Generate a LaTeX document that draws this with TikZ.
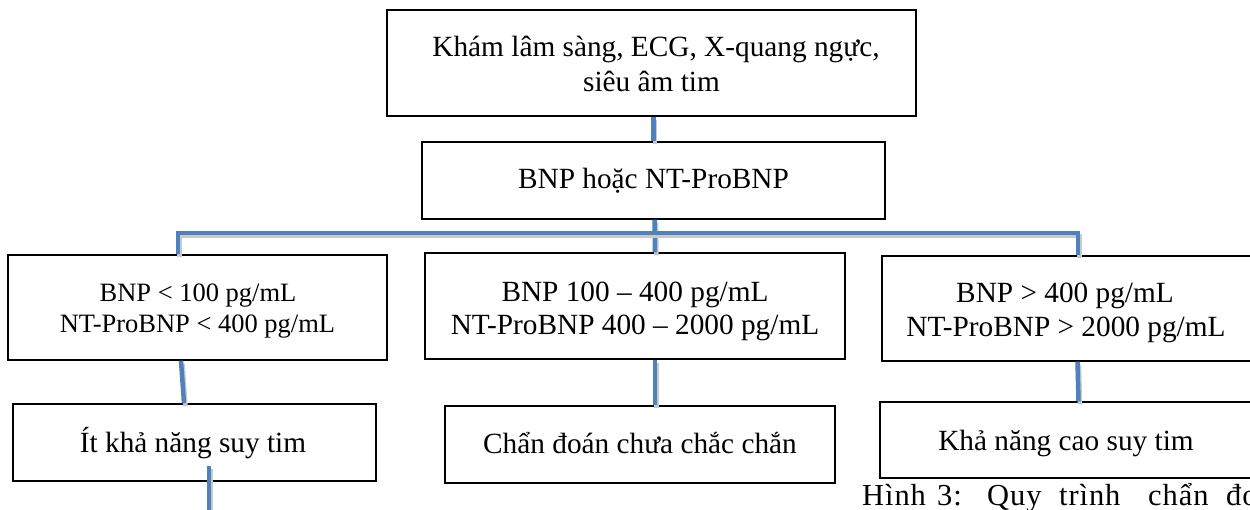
\documentclass[tikz,border=0pt]{standalone}
\usepackage{fontspec}
\setmainfont{Liberation Serif}
\usetikzlibrary{calc}
\definecolor{linkblue}{HTML}{4F81BD}
\definecolor{linkshade}{HTML}{C9C9C9}
\newcommand\txtmain{\fontsize{29.3pt}{34pt}\selectfont}
\newcommand\txtsmall{\fontsize{26.5pt}{31pt}\selectfont}
\newcommand\txtcap{\fontsize{30.5pt}{34pt}\selectfont\addfontfeatures{LetterSpace=3}}
\newcommand\capword[2]{\makebox[#1pt][l]{#2}}
\begin{document}
\begin{tikzpicture}[x=1pt,y=-1pt,
  box/.style={draw=black,line width=1.4pt,inner sep=0pt,fill=white},
  line/.style={anchor=base,inner sep=0pt,font=\txtmain},
  smallline/.style={anchor=base,inner sep=0pt,font=\txtsmall},
  link/.style={draw=linkblue,line width=4.5pt,
    preaction={draw=linkshade,line width=4.5pt,
      transform canvas={shift={(1.5pt,-3pt)}}}}]
\useasboundingbox (0,0) rectangle (1250,510);
\clip (0,0) rectangle (1250,510);

% boxes
\node[box,minimum width=529pt,minimum height=106pt] (top) at (651.5,63) {};
\node[box,minimum width=463pt,minimum height=77pt]  (bnp) at (653.5,180.5) {};
\node[box,minimum width=379pt,minimum height=105pt] (b1)  at (197.5,307.5) {};
\node[box,minimum width=420pt,minimum height=106pt] (b2)  at (635,306) {};
\node[box,minimum width=370pt,minimum height=105pt] (b3)  at (1067,308.5) {};
\node[box,minimum width=363pt,minimum height=77pt]  (r1)  at (194.5,442.5) {};
\node[box,minimum width=390pt,minimum height=77pt]  (r2)  at (640,444.5) {};
\node[box,minimum width=372pt,minimum height=76pt]  (r3)  at (1066,440) {};

% box texts, one node per line, set on their baselines
\node[line] (top1) at (656,57)   {Khám lâm sàng, ECG, X-quang ngực,};
\node[line] (top2) at (651.5,92) {siêu âm tim};
\node[line] (bnpt) at (653.5,189) {BNP hoặc NT-ProBNP};
\node[smallline] (b1a) at (198,302)   {BNP < 100 pg/mL};
\node[smallline] (b1b) at (197.5,333) {NT-ProBNP < 400 pg/mL};
\node[line] (b2a) at (635,302) {BNP 100 – 400 pg/mL};
\node[line] (b2b) at (635,335) {NT-ProBNP 400 – 2000 pg/mL};
\node[line] (b3a) at (1065,303) {BNP > 400 pg/mL};
\node[line] (b3b) at (1066,337) {NT-ProBNP > 2000 pg/mL};
\node[line] (r1t) at (193,452)  {Ít khả năng suy tim};
\node[line] (r2t) at (640,453)  {Chẩn đoán chưa chắc chắn};
\node[line] (r3t) at (1066,450) {Khả năng cao suy tim};

% figure caption, justified with wide word gaps; it runs on past the right edge
\node[anchor=base west,inner sep=0pt,font=\txtcap] (cap) at (862,505)
  {\capword{75}{Hình}\capword{50}{3:}\capword{72}{Quy}\capword{89}{trình}\capword{78}{chẩn}đoán suy tim};

% connectors
\coordinate (j1) at (178,233);
\coordinate (j3) at (1078,233);
\coordinate (tail) at (209,514);
\draw[link] (bnp.north |- top.south) -- (bnp.north);
\draw[link] ($(bnp.south)+(1,0)$) -- ($(b2.north)+(20,0)$);
\draw[link] (j1 |- b1.north) -- (j1) -- (j3) -- (j3 |- b3.north);
\draw[link] ($(b1.south)+(-16.5,0)$) -- ($(r1.north)+(-10.5,0)$);
\draw[link] ($(b2.south)+(20,0)$) -- ($(r2.north)+(15,0)$);
\draw[link] ($(b3.south)+(10.5,0)$) -- ($(r3.north)+(12.5,0)$);
\draw[link] ($(r1.center)+(14.5,23.5)$) -- (tail);
\end{tikzpicture}
\end{document}
